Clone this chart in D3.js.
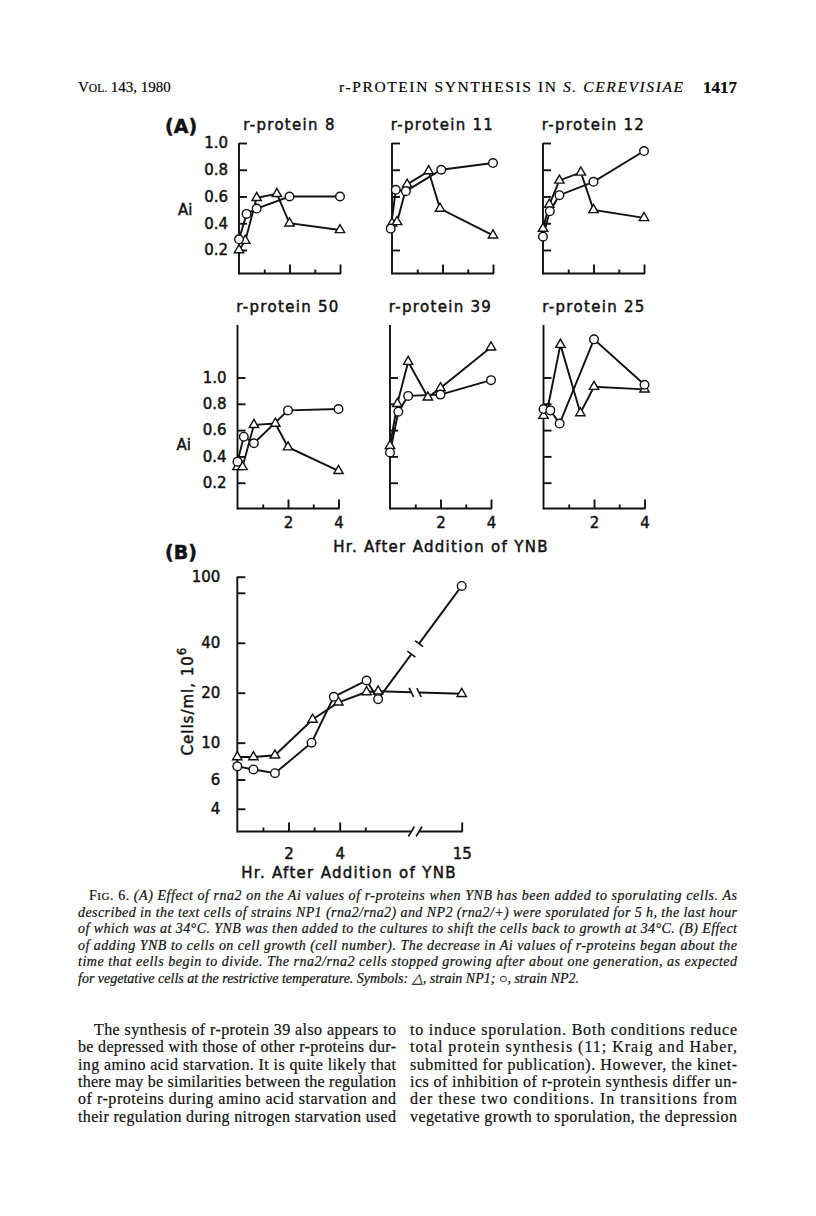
<!DOCTYPE html>
<html><head><meta charset="utf-8">
<script src="https://cdn.jsdelivr.net/npm/d3@7"></script>
<style>body{margin:0;background:#fff}svg{display:block}
.chart text{stroke:#111;stroke-width:0.45px}
.prose text{stroke:#111;stroke-width:0.2px}</style>
</head><body>
<svg id="c" width="816" height="1216"></svg>
<script>
// ---------- DATA ----------
const panelTitles = ["r-protein 8", "r-protein 11", "r-protein 12", "r-protein 50", "r-protein 39", "r-protein 25"];
const aiTicks = [0.2, 0.4, 0.6, 0.8, 1.0];
const hourMajorTicks = [2, 4];
const hourMinorTicks = [1, 3];

// triangles = strain NP1, circles = strain NP2
const rp8_NP1_hr = [0, 0.25, 0.7, 1.5, 2, 4];
const rp8_NP1_ai = [0.20, 0.27, 0.59, 0.62, 0.40, 0.35];
const rp8_NP2_hr = [0, 0.3, 0.7, 2, 4];
const rp8_NP2_ai = [0.28, 0.47, 0.51, 0.60, 0.60];

const rp11_NP1_hr = [0, 0.2, 0.6, 1.45, 1.9, 4];
const rp11_NP1_ai = [0.40, 0.41, 0.69, 0.79, 0.51, 0.31];
const rp11_NP2_hr = [-0.05, 0.15, 0.55, 1.95, 4];
const rp11_NP2_ai = [0.36, 0.65, 0.64, 0.80, 0.85];

const rp12_NP1_hr = [0, 0.25, 0.65, 1.5, 2, 4];
const rp12_NP1_ai = [0.36, 0.54, 0.72, 0.78, 0.50, 0.44];
const rp12_NP2_hr = [0, 0.27, 0.65, 2, 4];
const rp12_NP2_ai = [0.30, 0.49, 0.61, 0.71, 0.94];

const rp50_NP1_hr = [0, 0.2, 0.65, 1.5, 2, 4];
const rp50_NP1_ai = [0.32, 0.32, 0.64, 0.65, 0.47, 0.29];
const rp50_NP2_hr = [0, 0.25, 0.65, 2, 4];
const rp50_NP2_ai = [0.36, 0.55, 0.50, 0.75, 0.76];

const rp39_NP1_hr = [0, 0.29, 0.72, 1.5, 2, 4];
const rp39_NP1_ai = [0.48, 0.80, 1.12, 0.85, 0.92, 1.23];
const rp39_NP2_hr = [0, 0.33, 0.72, 2, 4];
const rp39_NP2_ai = [0.43, 0.74, 0.86, 0.87, 0.98];

const rp25_NP1_hr = [0, 0.16, 0.67, 1.46, 2, 4];
const rp25_NP1_ai = [0.71, 0.76, 1.25, 0.73, 0.93, 0.91];
const rp25_NP2_hr = [0, 0.27, 0.64, 2, 4];
const rp25_NP2_ai = [0.76, 0.75, 0.65, 1.29, 0.945];

// Panel B
const cellHoursNP1 = [0, 0.63, 1.47, 2.94, 3.95, 5.05, 5.5, 15];
const cellsNP1 = [8.2, 8.2, 8.4, 13.8, 17.5, 20.2, 20.4, 19.7];
const cellHoursNP2 = [0, 0.63, 1.47, 2.9, 3.77, 5.05, 5.5, 15];
const cellsNP2 = [7.2, 6.9, 6.55, 10, 18.9, 23.7, 18.3, 88];
const cellTicks = [4, 6, 10, 20, 40, 80, 100];
const cellTickLabels = ["4", "6", "10", "20", "40", "", "100"];
const hourTicksB = [1, 2, 3, 4, 5, 15];
const hourTickLabelsB = ["", "2", "", "4", "", "15"];
const hourMajorB = [2, 4, 15];

const xLabel = "Hr. After Addition of YNB";

const headerLeft = "143, 1980";
const headerTitle = "r-PROTEIN SYNTHESIS IN ";
const headerTitleIt = "S. CEREVISIAE";
const pageNumber = "1417";

const captionLines = [
  "(A) Effect of rna2 on the Ai values of r-proteins when YNB has been added to sporulating cells. As",
  "described in the text cells of strains NP1 (rna2/rna2) and NP2 (rna2/+) were sporulated for 5 h, the last hour",
  "of which was at 34°C. YNB was then added to the cultures to shift the cells back to growth at 34°C. (B) Effect",
  "of adding YNB to cells on cell growth (cell number). The decrease in Ai values of r-proteins began about the",
  "time that eells begin to divide. The rna2/rna2 cells stopped growing after about one generation, as expected",
  "for vegetative cells at the restrictive temperature. Symbols: △, strain NP1; ○, strain NP2."
];
const bodyLeft = [
  "The synthesis of r-protein 39 also appears to",
  "be depressed with those of other r-proteins dur-",
  "ing amino acid starvation. It is quite likely that",
  "there may be similarities between the regulation",
  "of r-proteins during amino acid starvation and",
  "their regulation during nitrogen starvation used"
];
const bodyRight = [
  "to induce sporulation. Both conditions reduce",
  "total protein synthesis (11; Kraig and Haber,",
  "submitted for publication). However, the kinet-",
  "ics of inhibition of r-protein synthesis differ un-",
  "der these two conditions. In transitions from",
  "vegetative growth to sporulation, the depression"
];

// ---------- DRAW ----------
const root = d3.select("#c");
const prose = root.append("g").attr("class", "prose");
const svg = root.append("g").attr("class", "chart");
const SANS = "DejaVu Sans";
const SERIF = "Liberation Serif";

// header
const h = prose.append("text").attr("x", 78).attr("y", 92).attr("font-family", SERIF).attr("font-size", 15);
h.append("tspan").text("V");
h.append("tspan").attr("font-size", 11.5).text("OL.");
h.append("tspan").text(" " + headerLeft);
const ht = prose.append("text").attr("x", 339).attr("y", 92).attr("font-family", SERIF).attr("font-size", 15.5)
  .attr("textLength", 344).attr("lengthAdjust", "spacing");
ht.append("tspan").text(headerTitle);
ht.append("tspan").attr("font-style", "italic").text(headerTitleIt);
prose.append("text").attr("x", 737).attr("y", 93).attr("text-anchor", "end").attr("font-family", SERIF)
  .attr("font-size", 17).attr("font-weight", "bold").text(pageNumber);

const panels = [
  {t: panelTitles[0], x0: 239,   row: 0, lab: true,  tri: [rp8_NP1_hr, rp8_NP1_ai],  cir: [rp8_NP2_hr, rp8_NP2_ai]},
  {t: panelTitles[1], x0: 392,   row: 0, lab: false, tri: [rp11_NP1_hr, rp11_NP1_ai], cir: [rp11_NP2_hr, rp11_NP2_ai]},
  {t: panelTitles[2], x0: 543,   row: 0, lab: false, tri: [rp12_NP1_hr, rp12_NP1_ai], cir: [rp12_NP2_hr, rp12_NP2_ai]},
  {t: panelTitles[3], x0: 237.5, row: 1, lab: true,  tri: [rp50_NP1_hr, rp50_NP1_ai], cir: [rp50_NP2_hr, rp50_NP2_ai]},
  {t: panelTitles[4], x0: 390,   row: 1, lab: false, tri: [rp39_NP1_hr, rp39_NP1_ai], cir: [rp39_NP2_hr, rp39_NP2_ai]},
  {t: panelTitles[5], x0: 543.5, row: 1, lab: false, tri: [rp25_NP1_hr, rp25_NP1_ai], cir: [rp25_NP2_hr, rp25_NP2_ai]}
];
const rows = [
  {range: [276.75, 143], top: 1.0, axisY: 273.5, titleY: 129.5, aiY: 215, xlabels: false},
  {range: [509, 377.5], top: 1.4, axisY: 508.5, titleY: 312, aiY: 450, xlabels: true}
];

const triSym = d3.symbol().type(d3.symbolTriangle).size(38);

function drawSeries(g, xs, ys, x, y) {
  const pts = xs.map((v, i) => [x(v), y(ys[i])]);
  g.append("path").attr("d", d3.line()(pts)).attr("fill", "none").attr("stroke", "#111").attr("stroke-width", 1.9);
  return pts;
}
function drawMarks(g, pts, kind) {
  if (kind === "tri") {
    g.selectAll(null).data(pts).enter().append("path").attr("d", triSym)
      .attr("transform", d => `translate(${d[0]},${d[1]})`)
      .attr("fill", "#fff").attr("stroke", "#111").attr("stroke-width", 1.4);
  } else {
    g.selectAll(null).data(pts).enter().append("circle").attr("cx", d => d[0]).attr("cy", d => d[1]).attr("r", 4.3)
      .attr("fill", "#fff").attr("stroke", "#111").attr("stroke-width", 1.4);
  }
}

panels.forEach(p => {
  const r = rows[p.row];
  const x = d3.scaleLinear().domain([0, 4]).range([p.x0, p.x0 + 101]);
  const y = d3.scaleLinear().domain([0, 1]).range(r.range);
  const g = svg.append("g").attr("font-family", SANS);

  g.append("line").attr("x1", x(0)).attr("x2", x(0)).attr("y1", y(r.top)).attr("y2", r.axisY + 1)
    .attr("stroke", "#111").attr("stroke-width", 1.9);
  g.append("line").attr("x1", x(0)).attr("x2", x(4) + 1).attr("y1", r.axisY).attr("y2", r.axisY)
    .attr("stroke", "#111").attr("stroke-width", 1.9);

  const ya = d3.axisLeft(y).tickValues(aiTicks).tickSizeInner(-8).tickSizeOuter(0).tickPadding(11)
    .tickFormat(p.lab ? d3.format(".1f") : () => "");
  const yg = g.append("g").attr("transform", `translate(${x(0)},0)`).call(ya);
  yg.select(".domain").remove();
  yg.selectAll("line").attr("stroke", "#111").attr("stroke-width", 1.9);
  yg.selectAll("text").attr("font-family", SANS).attr("font-size", 15).attr("fill", "#111");

  const xaM = d3.axisBottom(x).tickValues(hourMajorTicks).tickSizeInner(-9).tickSizeOuter(0).tickPadding(9)
    .tickFormat(r.xlabels ? d3.format("d") : () => "");
  const xgM = g.append("g").attr("transform", `translate(0,${r.axisY})`).call(xaM);
  xgM.select(".domain").remove();
  xgM.selectAll("line").attr("stroke", "#111").attr("stroke-width", 1.9);
  xgM.selectAll("text").attr("font-family", SANS).attr("font-size", 15).attr("fill", "#111");
  const xam = d3.axisBottom(x).tickValues(hourMinorTicks).tickSizeInner(-4).tickSizeOuter(0).tickFormat(() => "");
  const xgm = g.append("g").attr("transform", `translate(0,${r.axisY})`).call(xam);
  xgm.select(".domain").remove();
  xgm.selectAll("line").attr("stroke", "#111").attr("stroke-width", 1.9);

  g.append("text").attr("x", (x(0) + x(4)) / 2).attr("y", r.titleY).attr("text-anchor", "middle")
    .attr("font-size", 15).attr("letter-spacing", 1.3).attr("fill", "#111").text(p.t);

  if (p.lab) {
    g.append("text").attr("x", x(0) - 61).attr("y", r.aiY).attr("font-size", 15).attr("fill", "#111").text("Ai");
  }

  const tp = drawSeries(g, p.tri[0], p.tri[1], x, y);
  const cp = drawSeries(g, p.cir[0], p.cir[1], x, y);
  drawMarks(g, tp, "tri");
  drawMarks(g, cp, "cir");
});

svg.append("text").attr("x", 165).attr("y", 133).attr("font-family", SANS).attr("font-weight", "bold")
  .attr("font-size", 19).attr("fill", "#111").text("(A)");
svg.append("text").attr("x", 441).attr("y", 552).attr("text-anchor", "middle").attr("font-family", SANS)
  .attr("font-size", 15).attr("letter-spacing", 1.3).attr("fill", "#111").text(xLabel);

// ---------- Panel B ----------
{
  const g = svg.append("g").attr("font-family", SANS);
  const x = d3.scaleLinear().domain([0, 7.2, 15]).range([237.3, 237.3 + 7.2 * 25.6, 461.7]);
  const y = d3.scaleLog().domain([10, 100]).range([742.7, 576.7]);
  const axisY = 831.5;
  const gap0 = x(6.8), gap1 = x(7.1);

  g.append("line").attr("x1", x(0)).attr("x2", x(0)).attr("y1", y(100)).attr("y2", axisY + 1)
    .attr("stroke", "#111").attr("stroke-width", 1.9);
  g.append("line").attr("x1", x(0)).attr("x2", gap0).attr("y1", axisY).attr("y2", axisY)
    .attr("stroke", "#111").attr("stroke-width", 1.9);
  g.append("line").attr("x1", gap1).attr("x2", x(15) + 1).attr("y1", axisY).attr("y2", axisY)
    .attr("stroke", "#111").attr("stroke-width", 1.9);
  [gap0, gap1].forEach(gx => {
    g.append("line").attr("x1", gx - 3).attr("x2", gx + 3).attr("y1", axisY + 5).attr("y2", axisY - 5)
      .attr("stroke", "#111").attr("stroke-width", 1.6);
  });

  const ya = d3.axisLeft(y).tickValues(cellTicks).tickSizeInner(-8).tickSizeOuter(0).tickPadding(17)
    .tickFormat((d, i) => cellTickLabels[i]);
  const yg = g.append("g").attr("transform", `translate(${x(0)},0)`).call(ya);
  yg.select(".domain").remove();
  yg.selectAll("line").attr("stroke", "#111").attr("stroke-width", 1.9);
  yg.selectAll("text").attr("font-family", SANS).attr("font-size", 15).attr("fill", "#111");

  const xa = d3.axisBottom(x).tickValues(hourTicksB).tickSizeOuter(0).tickPadding(11)
    .tickFormat((d, i) => hourTickLabelsB[i]);
  const xg = g.append("g").attr("transform", `translate(0,${axisY})`).call(xa);
  xg.select(".domain").remove();
  xg.selectAll("line").attr("y2", d => hourMajorB.includes(d) ? -9 : -4).attr("stroke", "#111").attr("stroke-width", 1.9);
  xg.selectAll("text").attr("font-family", SANS).attr("font-size", 15).attr("fill", "#111");

  svg.append("text").attr("x", 165).attr("y", 559).attr("font-family", SANS).attr("font-weight", "bold")
    .attr("font-size", 19).attr("fill", "#111").text("(B)");
  svg.append("text").attr("x", 349).attr("y", 878).attr("text-anchor", "middle").attr("font-family", SANS)
    .attr("font-size", 15).attr("letter-spacing", 1.3).attr("fill", "#111").text(xLabel);
  const yl = svg.append("text").attr("transform", "translate(193,701) rotate(-90)").attr("text-anchor", "middle")
    .attr("font-family", SANS).attr("font-size", 15).attr("letter-spacing", 1).attr("fill", "#111");
  yl.append("tspan").text("Cells/ml, 10");
  yl.append("tspan").attr("dy", -7).attr("font-size", 12).text("6");

  function series(xs, ys, kind) {
    const pts = xs.map((v, i) => [x(v), y(ys[i])]);
    const n = pts.length;
    g.append("path").attr("d", d3.line()(pts.slice(0, n - 1))).attr("fill", "none").attr("stroke", "#111").attr("stroke-width", 1.9);
    const a = pts[n - 2], b = pts[n - 1];
    const at = xx => [xx, a[1] + (b[1] - a[1]) * (xx - a[0]) / (b[0] - a[0])];
    const p0 = at(gap0), p1 = at(gap1);
    g.append("path").attr("d", d3.line()([a, p0])).attr("stroke", "#111").attr("stroke-width", 1.9);
    g.append("path").attr("d", d3.line()([p1, b])).attr("stroke", "#111").attr("stroke-width", 1.9);
    const dx = b[0] - a[0], dy = b[1] - a[1], L = Math.hypot(dx, dy);
    const nx = -dy / L, ny = dx / L;
    [p0, p1].forEach(q => {
      let ux = nx, uy = ny;
      if (kind === "tri") { ux = 0.5; uy = 1; const l = Math.hypot(ux, uy); ux /= l; uy /= l; }
      g.append("line").attr("x1", q[0] - ux * 5).attr("y1", q[1] - uy * 5).attr("x2", q[0] + ux * 5).attr("y2", q[1] + uy * 5)
        .attr("stroke", "#111").attr("stroke-width", 1.6);
    });
    return pts;
  }
  const tp = series(cellHoursNP1, cellsNP1, "tri");
  const cp = series(cellHoursNP2, cellsNP2, "cir");
  drawMarks(g, tp, "tri");
  drawMarks(g, cp, "cir");
}

// ---------- caption ----------
const capY0 = 900, capDy = 16.6;
captionLines.forEach((line, i) => {
  const t = prose.append("text").attr("y", capY0 + i * capDy).attr("font-family", SERIF).attr("font-size", 14).attr("fill", "#111");
  if (i === 0) {
    t.attr("x", 89).attr("textLength", 737 - 89).attr("lengthAdjust", "spacing");
    t.append("tspan").text("F");
    t.append("tspan").attr("font-size", 11).text("IG");
    t.append("tspan").text(". 6. ");
    t.append("tspan").attr("font-style", "italic").text(line);
  } else {
    t.attr("x", 78).attr("font-style", "italic").text(line);
    if (i < captionLines.length - 1) t.attr("textLength", 737 - 78).attr("lengthAdjust", "spacing");
  }
});

// ---------- body text ----------
const bodyY0 = 1035, bodyDy = 17.3;
bodyLeft.forEach((line, i) => {
  const x0 = i === 0 ? 94 : 78;
  prose.append("text").attr("x", x0).attr("y", bodyY0 + i * bodyDy).attr("font-family", SERIF).attr("font-size", 16)
    .attr("fill", "#111").attr("textLength", 396 - x0).attr("lengthAdjust", "spacing").text(line);
});
bodyRight.forEach((line, i) => {
  prose.append("text").attr("x", 410).attr("y", bodyY0 + i * bodyDy).attr("font-family", SERIF).attr("font-size", 16)
    .attr("fill", "#111").attr("textLength", 737 - 410).attr("lengthAdjust", "spacing").text(line);
});
</script>
</body></html>
